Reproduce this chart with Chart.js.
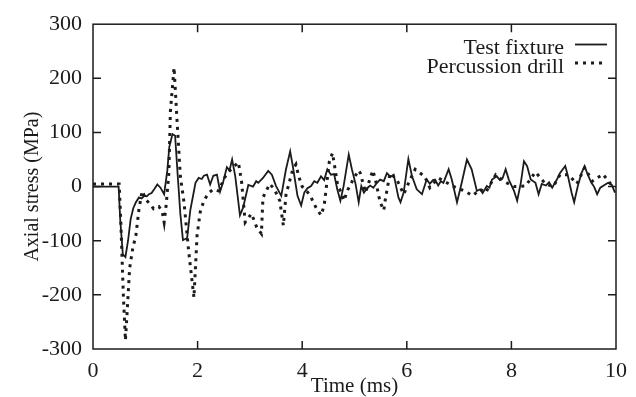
<!DOCTYPE html>
<html>
<head>
<meta charset="utf-8">
<script src="https://cdn.jsdelivr.net/npm/chart.js@4.4.0/dist/chart.umd.min.js"></script>
<style>
  html, body { margin: 0; padding: 0; background: #fff; }
  canvas { display: block; }
</style>
</head>
<body>
<canvas id="stressChart" width="636" height="397"></canvas>
<script>
// values (time in ms, stress in MPa)
const fixtureTime = [0, 0.49, 0.52, 0.57, 0.62, 0.67, 0.72, 0.77, 0.82, 0.88, 0.93, 0.98, 1.03, 1.07, 1.12, 1.17, 1.23, 1.29, 1.36, 1.42, 1.46, 1.52, 1.57, 1.62, 1.67, 1.72, 1.80, 1.86, 1.96, 2.02, 2.08, 2.12, 2.18, 2.24, 2.30, 2.37, 2.43, 2.49, 2.56, 2.61, 2.66, 2.72, 2.81, 2.87, 2.97, 3.06, 3.12, 3.16, 3.25, 3.35, 3.42, 3.50, 3.60, 3.69, 3.77, 3.82, 3.91, 3.98, 4.04, 4.10, 4.17, 4.23, 4.29, 4.36, 4.42, 4.48, 4.55, 4.61, 4.67, 4.73, 4.79, 4.89, 4.95, 5.02, 5.08, 5.13, 5.18, 5.24, 5.30, 5.36, 5.43, 5.49, 5.56, 5.62, 5.69, 5.75, 5.84, 5.88, 5.94, 6.03, 6.10, 6.19, 6.29, 6.38, 6.44, 6.50, 6.54, 6.60, 6.65, 6.70, 6.80, 6.86, 6.96, 7.05, 7.15, 7.24, 7.34, 7.40, 7.45, 7.53, 7.58, 7.63, 7.72, 7.78, 7.83, 7.89, 7.95, 8.05, 8.11, 8.18, 8.24, 8.30, 8.37, 8.46, 8.52, 8.58, 8.66, 8.72, 8.78, 8.87, 8.93, 9.03, 9.08, 9.15, 9.20, 9.27, 9.34, 9.40, 9.46, 9.53, 9.58, 9.64, 9.70, 9.78, 9.85, 9.92, 9.98];
const fixtureStress = [0, 0, -60, -125, -130, -100, -60, -40, -29, -20, -22, -17, -18, -14, -12, -5, 4, -2, -14, 29, 74, 97, 94, 20, -50, -99, -95, -44, 7, 16, 14, 20, 22, 4, 20, 22, -9, 9, 36, 30, 50, 19, -53, -39, 3, 0, 10, 7, 16, 29, 22, 1, -17, 32, 65, 38, -17, -35, -11, -3, 1, 10, 7, 19, 12, 32, 22, 23, -5, -26, 0, 59, 32, 5, -29, 1, -11, -3, 2, -2, 7, 13, 10, 25, 18, 22, -20, -29, -11, 51, 19, -5, -14, 13, 5, 12, 13, 2, 10, 7, 32, 13, -29, 7, 50, 32, -8, -5, -12, 1, -2, 13, 19, 12, 15, 32, 13, -8, -26, 7, 47, 38, 13, 7, -14, 5, 2, 8, -2, 13, 25, 38, 20, -11, -29, 1, 25, 38, 22, 7, 0, -14, -2, 3, 7, 3, -11];

const drillTime = [0, 0.50, 0.53, 0.58, 0.62, 0.66, 0.70, 0.76, 0.82, 0.88, 0.94, 1.02, 1.10, 1.16, 1.26, 1.32, 1.36, 1.40, 1.45, 1.48, 1.55, 1.61, 1.67, 1.74, 1.83, 1.93, 1.99, 2.05, 2.12, 2.21, 2.30, 2.40, 2.53, 2.62, 2.78, 2.84, 2.91, 3.03, 3.13, 3.22, 3.25, 3.38, 3.47, 3.57, 3.64, 3.69, 3.82, 3.88, 3.93, 4.00, 4.10, 4.17, 4.26, 4.36, 4.42, 4.52, 4.58, 4.67, 4.80, 4.86, 4.99, 5.08, 5.11, 5.21, 5.35, 5.40, 5.49, 5.56, 5.59, 5.68, 5.81, 5.94, 6.05, 6.16, 6.25, 6.34, 6.44, 6.60, 6.75, 6.90, 7.10, 7.26, 7.40, 7.51, 7.70, 7.85, 8.05, 8.27, 8.46, 8.65, 8.80, 8.93, 9.09, 9.25, 9.40, 9.55, 9.75, 9.90, 10.0];
const drillStress = [5, 5, -60, -200, -284, -220, -151, -114, -90, -41, -8, -25, -33, -41, -37, -45, -66, -33, 25, 139, 220, 117, 19, -29, -120, -205, -90, -47, -26, -12, -5, -8, 19, 30, 45, 10, -66, -50, -75, -87, -20, 5, -5, -26, -72, -15, 32, 41, 20, 0, -10, -20, -38, -53, -35, 47, 62, 7, -26, -8, 16, 30, 25, -11, 30, 13, -29, -44, -23, 25, 13, -14, 10, 32, 25, 19, -2, 16, 8, 0, -8, -17, -5, -11, 22, 10, 0, 1, 27, 5, 0, 22, 22, 5, 35, 10, 23, 5, 0];

const xTicks = [0, 2, 4, 6, 8, 10];
const yTicks = [-300, -200, -100, 0, 100, 200, 300];
const seriesNames = ['Test fixture', 'Percussion drill'];

const ink = '#1b1b1b';
const serif = '"Liberation Serif", "Times New Roman", serif';

function toPoints(times, values) {
    return times.map((t, i) => ({ x: t, y: values[i] }));
}

// box frame, inward ticks and the text-then-sample legend of the original
const frameAndLegend = {
    id: 'frameAndLegend',
    afterDatasetsDraw(chart) {
        const { ctx, chartArea: a, scales: { x, y } } = chart;
        const len = 8;
        ctx.save();
        ctx.strokeStyle = ink;
        ctx.lineWidth = 1.5;
        ctx.strokeRect(a.left, a.top, a.right - a.left, a.bottom - a.top);

        ctx.beginPath();
        xTicks.slice(1, -1).forEach(v => {
            const px = x.getPixelForValue(v);
            ctx.moveTo(px, a.bottom); ctx.lineTo(px, a.bottom - len);
            ctx.moveTo(px, a.top); ctx.lineTo(px, a.top + len);
        });
        yTicks.slice(1, -1).forEach(v => {
            const py = y.getPixelForValue(v);
            ctx.moveTo(a.left, py); ctx.lineTo(a.left + len, py);
            ctx.moveTo(a.right, py); ctx.lineTo(a.right - len, py);
        });
        ctx.stroke();

        ctx.fillStyle = ink;
        ctx.font = '22px ' + serif;
        ctx.textAlign = 'right';
        ctx.textBaseline = 'alphabetic';
        const textRight = 564;
        const rows = [54, 72.5];
        chart.data.datasets.forEach((ds, i) => {
            const by = rows[i];
            ctx.fillText(seriesNames[i], textRight, by);
            ctx.save();
            ctx.strokeStyle = ds.borderColor;
            ctx.lineWidth = ds.borderWidth;
            ctx.setLineDash(ds.borderDash || []);
            ctx.beginPath();
            ctx.moveTo(textRight + 11, by - 9.5);
            ctx.lineTo(textRight + 43, by - 9.5);
            ctx.stroke();
            ctx.restore();
        });
        ctx.restore();
    }
};

new Chart(document.getElementById('stressChart'), {
    type: 'line',
    data: {
        datasets: [{
            label: seriesNames[0],
            data: toPoints(fixtureTime, fixtureStress),
            borderColor: ink,
            borderWidth: 1.8,
            pointRadius: 0,
            tension: 0
        }, {
            label: seriesNames[1],
            data: toPoints(drillTime, drillStress),
            borderColor: ink,
            borderWidth: 3,
            borderDash: [3, 5],
            borderCapStyle: 'butt',
            pointRadius: 0,
            tension: 0
        }]
    },
    options: {
        responsive: false,
        animation: false,
        devicePixelRatio: 1,
        layout: { padding: { top: 19, right: 15, bottom: 0, left: 0 } },
        plugins: { legend: { display: false }, tooltip: { enabled: false } },
        scales: {
            x: {
                type: 'linear',
                min: 0,
                max: 10,
                afterBuildTicks: s => { s.ticks = xTicks.map(v => ({ value: v })); },
                afterFit: s => { s.height = 48; },
                grid: { display: false, drawTicks: false },
                border: { display: false },
                ticks: { color: ink, padding: 9, maxRotation: 0, font: { family: serif, size: 22 } },
                title: {
                    display: true,
                    text: 'Time (ms)',
                    color: ink,
                    font: { family: serif, size: 21 },
                    padding: { top: 0, bottom: -2 }
                }
            },
            y: {
                min: -300,
                max: 300,
                afterBuildTicks: s => { s.ticks = yTicks.map(v => ({ value: v })); },
                afterFit: s => { s.width = 93; },
                grid: { display: false, drawTicks: false },
                border: { display: false },
                ticks: { color: ink, padding: 11, font: { family: serif, size: 22 } },
                title: {
                    display: true,
                    text: 'Axial stress (MPa)',
                    color: ink,
                    font: { family: serif, size: 20 },
                    padding: { top: 21, bottom: 0 }
                }
            }
        }
    },
    plugins: [frameAndLegend]
});
</script>
</body>
</html>
